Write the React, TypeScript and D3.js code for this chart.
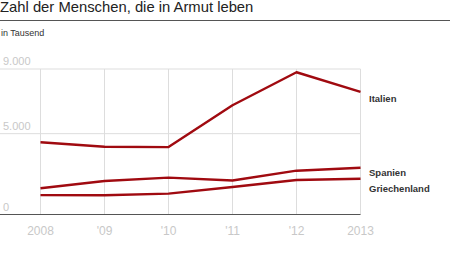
import React from "react";
import * as d3 from "d3";

const years = [2008, 2009, 2010, 2011, 2012, 2013];
const yearLabels = ["2008", "'09", "'10", "'11", "'12", "2013"];
const italien = [4470, 4190, 4170, 6760, 8800, 7580];
const spanien = [1620, 2070, 2280, 2100, 2710, 2890];
const griechenland = [1200, 1190, 1290, 1700, 2130, 2210];
const yTicks = [0, 5000, 9000];
const seriesNames = ["Italien", "Spanien", "Griechenland"];

export default function App() {
  const W = 450, H = 253;
  const x = d3.scaleLinear().domain([2008, 2013]).range([40.5, 360.5]);
  const y = d3.scaleLinear().domain([0, 9000]).range([214.5, 69]);
  const line = d3.line<number>().x((_, i) => x(years[i])).y((d) => y(d));
  const series = [italien, spanien, griechenland];
  const labelY = [102, 176, 192];
  const fmt = (v: number) => (v === 0 ? "0" : d3.format(",")(v).replace(/,/g, "."));
  return (
    <svg width={W} height={H} style={{ position: "absolute", left: 0, top: 0, background: "#fff" }}
      fontFamily="'Liberation Sans', Arial, Helvetica, sans-serif">
      <text x={0} y={12} fontSize={14.8} fill="#222">Zahl der Menschen, die in Armut leben</text>
      <line x1={0} x2={450} y1={20.5} y2={20.5} stroke="#555" strokeWidth={1} />
      <text x={1} y={36} fontSize={9} fill="#333">in Tausend</text>
      {yTicks.filter((t) => t > 0).map((t) => (
        <line key={t} x1={0} x2={x(2013)} y1={y(t)} y2={y(t)} stroke="#ddd" strokeWidth={1} />
      ))}
      {years.map((yr) => (
        <line key={yr} x1={x(yr)} x2={x(yr)} y1={y(9000)} y2={y(0)} stroke="#ddd" strokeWidth={1} />
      ))}
      {yTicks.map((t) => (
        <text key={t} x={3} y={y(t) - 4} fontSize={11} fill="#c8c8c8">{fmt(t)}</text>
      ))}
      <line x1={0} x2={x(2013)} y1={y(0)} y2={y(0)} stroke="#555" strokeWidth={1} />
      {years.map((yr, i) => (
        <text key={yr} x={x(yr)} y={235} fontSize={12} fill="#c8c8c8" textAnchor="middle">{yearLabels[i]}</text>
      ))}
      {series.map((s, i) => (
        <path key={i} d={line(s) || ""} fill="none" stroke="#a00a10" strokeWidth={2.4} strokeLinejoin="round" />
      ))}
      {seriesNames.map((n, i) => (
        <text key={n} x={369} y={labelY[i]} fontSize={9.5} fontWeight="bold" fill="#333">{n}</text>
      ))}
    </svg>
  );
}
